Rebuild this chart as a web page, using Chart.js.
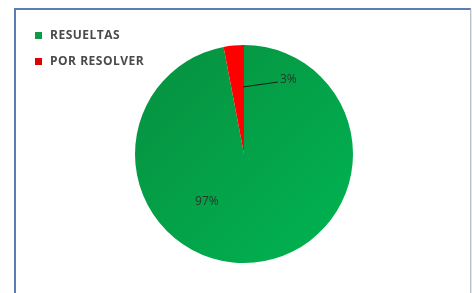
<!DOCTYPE html>
<html><head><meta charset="utf-8">
<script src="https://cdn.jsdelivr.net/npm/chart.js@4.4.1/dist/chart.umd.min.js"></script>
<style>
html,body{margin:0;padding:0;background:#fff;width:472px;height:293px;overflow:hidden;}
#frame{position:absolute;left:14px;top:8px;width:454px;height:300px;border-left:2px solid #5b7db4;border-top:2px solid #5b7db4;border-right:1px solid #b7c0cc;box-shadow:1px 1px 2px rgba(0,0,0,0.15);}
#wrap{position:absolute;left:0;top:0;width:472px;height:293px;}
</style></head>
<body>
<div id="frame"></div>
<div id="wrap"><canvas id="c" width="472" height="293"></canvas></div>
<script>
const categories = ["RESUELTAS", "POR RESOLVER"];
const values = [97, 3];
const valueLabels = ["97%", "3%"];
const colors = ["#04a54a", "#ff0000"];

const legendPlugin = {
  id: 'customLegend',
  afterDraw(chart) {
    const ctx = chart.ctx;
    ctx.save();
    ctx.font = 'bold 12px "Open Sans", sans-serif';
    try { ctx.letterSpacing = '0.5px'; } catch (e) {}
    ctx.textBaseline = 'middle';
    chart.data.labels.forEach((lab, i) => {
      const y = 35.5 + i * 26;
      ctx.fillStyle = i === 0 ? '#0f9a4a' : '#e00000';
      ctx.fillRect(35, y - 3.5, 7, 7);
      ctx.fillStyle = '#4a4a4a';
      ctx.fillText(lab, 50, y + 0.5);
    });
    ctx.restore();
  }
};

const labelPlugin = {
  id: 'sliceLabels',
  afterDraw(chart) {
    const ctx = chart.ctx;
    const arc = chart.getDatasetMeta(0).data[0];
    const cx = arc.x, cy = arc.y, r = arc.outerRadius;
    ctx.save();
    ctx.font = '12px "Open Sans", sans-serif';
    ctx.fillStyle = '#233a2b';
    ctx.textBaseline = 'middle';
    ctx.textAlign = 'center';
    // 97% label inside
    ctx.fillText(valueLabels[0], cx - 0.34 * r, cy + 0.44 * r);
    // 3% label with leader line
    ctx.strokeStyle = '#1a1a1a';
    ctx.lineWidth = 1;
    ctx.beginPath();
    ctx.moveTo(cx - 1, cy - 0.615 * r);
    ctx.lineTo(cx + 0.31 * r, cy - 0.66 * r);
    ctx.stroke();
    ctx.textAlign = 'left';
    ctx.fillText(valueLabels[1], cx + 0.33 * r, cy - 0.68 * r);
    ctx.restore();
  }
};

new Chart(document.getElementById('c'), {
  type: 'pie',
  data: {
    labels: categories,
    datasets: [{
      data: values,
      backgroundColor: (ctx) => {
        if (ctx.dataIndex !== 0) return colors[1];
        const ch = ctx.chart;
        const a = ch.chartArea;
        if (!a) return colors[0];
        const g = ch.ctx.createLinearGradient(a.left, a.top, a.right, a.bottom);
        g.addColorStop(0, '#078f3f');
        g.addColorStop(1, '#00b552');
        return g;
      },
      borderWidth: 0
    }]
  },
  options: {
    responsive: false,
    animation: false,
    layout: { padding: { top: 45, bottom: 30, left: 135, right: 119 } },
    plugins: { legend: { display: false }, tooltip: { enabled: false } }
  },
  plugins: [legendPlugin, labelPlugin]
});
</script>
</body></html>
